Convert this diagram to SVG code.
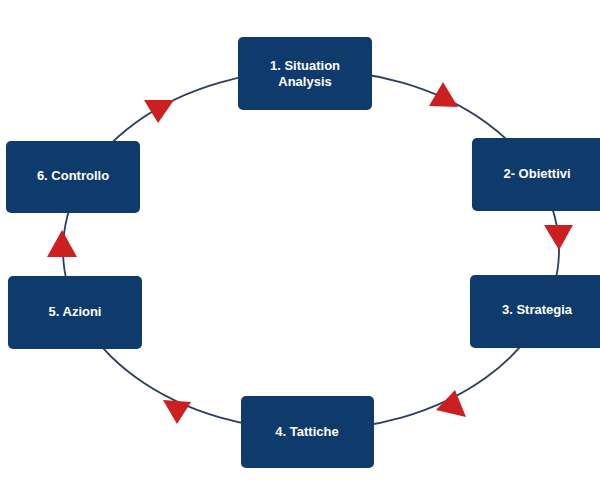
<svg xmlns="http://www.w3.org/2000/svg" width="600" height="480" viewBox="0 0 600 480">
<style>
.box{fill:#0f3b6c}
.t{fill:#fff;font-family:"Liberation Sans",Arial,sans-serif;font-weight:bold;font-size:13px;text-anchor:middle}
.arr{fill:#cc1f1f}
</style>
<rect width="600" height="480" fill="#fff"/>
<g id="connectors">
<ellipse cx="311" cy="250" rx="248" ry="180" fill="none" stroke="#2b3f5e" stroke-width="1.8"/>
<polygon class="arr" points="443,82 429,106 458,107"/>
<polygon class="arr" points="559,250 544,225 573,225"/>
<polygon class="arr" points="455,390 436,410 466,417"/>
<polygon class="arr" points="177,424 163,400 191,402"/>
<polygon class="arr" points="62,230 47,257 77,257"/>
<polygon class="arr" points="158,123 144,100 174,100"/>
</g>
<g id="n1"><rect class="box" x="238" y="37" width="134" height="73" rx="5"/><text class="t" x="305" y="70">1. Situation</text><text class="t" x="305" y="86">Analysis</text></g>
<g id="n2"><rect class="box" x="472" y="138" width="134" height="73" rx="5"/><text class="t" x="537" y="178">2- Obiettivi</text></g>
<g id="n3"><rect class="box" x="470" y="275" width="134" height="73" rx="5"/><text class="t" x="537" y="314">3. Strategia</text></g>
<g id="n4"><rect class="box" x="241" y="396" width="133" height="72" rx="5"/><text class="t" x="307" y="436">4. Tattiche</text></g>
<g id="n5"><rect class="box" x="8" y="276" width="134" height="73" rx="5"/><text class="t" x="75" y="316">5. Azioni</text></g>
<g id="n6"><rect class="box" x="6" y="141" width="134" height="72" rx="5"/><text class="t" x="73" y="180">6. Controllo</text></g>
</svg>
